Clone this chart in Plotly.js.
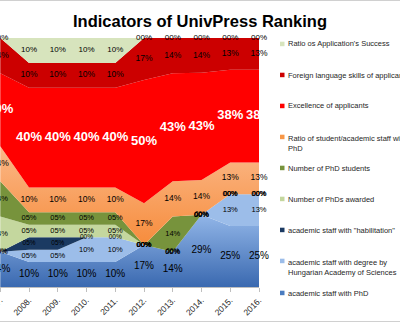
<!DOCTYPE html>
<html>
<head>
<meta charset="utf-8">
<script src="https://cdn.plot.ly/plotly-3.0.1.min.js"></script>
<style>html,body{margin:0;padding:0;background:#fff;}#chart{width:400px;height:323px;}</style>
</head>
<body>
<div id="chart"></div>
<script>
// ---- data (percent shares, as labelled) ----
const years = ['2007.','2008.','2009.','2010.','2011.','2012.','2013.','2014.','2015.','2016.'];
const staffPhD       = [14,10,10,10,10,17,14,29,25,25];
const staffAcademy   = [ 0, 5, 5,10,10, 0, 0, 0,13,13];
const staffHabil     = [ 0, 5, 5, 0, 0, 0, 0, 0, 0, 0];
const phdsAwarded    = [14, 5, 5, 5, 5, 0, 0, 0, 0, 0];
const phdStudents    = [14, 5, 5, 5, 5, 0,14, 0, 0, 0];
const ratioStaff     = [14,10,10,10,10,17,14,14,13,13];
const excellence     = [29,40,40,40,40,50,43,43,38,38];
const foreignLang    = [14,10,10,10,10,17,14,14,13,13];
const successRatio   = [ 0,10,10,10,10, 0, 0, 0, 0, 0];

const seriesNames = [
  'academic staff with PhD',
  'academic staff with degree by<br>Hungarian Academy of Sciences',
  'academic staff with "habilitation"',
  'Number of PhDs awarded',
  'Number of PhD students',
  'Ratio of student/academic staff with<br>PhD',
  'Excellence of applicants',
  'Foreign language skills of applicants',
  "Ratio os Application's Success"
];
const seriesData = [staffPhD, staffAcademy, staffHabil, phdsAwarded, phdStudents, ratioStaff, excellence, foreignLang, successRatio];

// ---- styles ----
const FONT = 'Liberation Sans, Arial, sans-serif';
const colors = ['#4a7cc0','#9cbde9','#1b3a62','#c4d79e','#77933c','#f79646','#ff0000','#cc0000','#d7e4bd'];
const gradients = [
  [[0,'#3a69b0'],[1,'#92b6e8']],
  null, null, null, null,
  [[0,'#f68c3c'],[1,'#fbb888']],
  null, null, null
];
const labelSize  = [10, 7.5, 6.5, 7.5, 7.5, 8.5, 13, 8.5, 8];
const labelColor = ['#000','#000','#000','#000','#000','#000','#fff','#000','#000'];
const labelBold  = [false,false,false,false,false,false,true,false,false];

const traces = [];
seriesData.forEach((d, i) => {
  const t = {
    x: years, y: d, name: seriesNames[i], type: 'scatter', mode: 'none',
    stackgroup: 'one', groupnorm: 'percent', line: {width: 0},
    fillcolor: colors[i], hoverinfo: 'skip', showlegend: false
  };
  if (gradients[i]) t.fillgradient = {type: 'vertical', colorscale: gradients[i]};
  traces.push(t);
});

// label positions: middle of each band (normalised)
const totals = years.map((_, j) => seriesData.reduce((s, d) => s + d[j], 0));
const cum = years.map(() => 0);
seriesData.forEach((d, i) => {
  const mids = [];
  years.forEach((_, j) => {
    const h = d[j] / totals[j] * 100;
    mids.push(Math.min(cum[j] + h / 2, 99.9));
    cum[j] += h;
  });
  traces.push({
    x: years, y: mids, type: 'scatter', mode: 'text',
    text: d.map(v => (v < 10 ? '0' : '') + v + '%'),
    textposition: 'middle center', cliponaxis: false, hoverinfo: 'skip', showlegend: false,
    textfont: {family: FONT, size: labelSize[i], color: labelColor[i], weight: labelBold[i] ? 'bold' : 'normal'}
  });
});

// ---- layout ----
const W = 400, H = 323, L = 0, R = 141, T = 38, B = 36;
const pw = W - L - R, ph = H - T - B;
const px = x => (x - L) / pw;
const py = y => (H - B - y) / ph;

const legendItems = [
  {name: "Ratio os Application's Success", c: colors[8], y: 44},
  {name: 'Foreign language skills of applicants', c: colors[7], y: 75},
  {name: 'Excellence of applicants', c: colors[6], y: 106},
  {name: 'Ratio of student/academic staff with<br>PhD', c: colors[5], y: 137, two: true},
  {name: 'Number of PhD students', c: colors[4], y: 168},
  {name: 'Number of PhDs awarded', c: colors[3], y: 199},
  {name: 'academic staff with "habilitation"', c: colors[2], y: 230},
  {name: 'academic staff with degree by<br>Hungarian Academy of Sciences', c: colors[1], y: 261, two: true},
  {name: 'academic staff with PhD', c: colors[0], y: 293}
];
const annotations = [], shapes = [];
legendItems.forEach(it => {
  annotations.push({
    xref: 'paper', yref: 'paper', x: px(286), y: py(it.y),
    xanchor: 'left', yanchor: it.two ? 'top' : 'middle', yshift: it.two ? 5 : 0,
    text: it.name, showarrow: false, align: 'left',
    font: {family: FONT, size: 7.5, color: '#262626'}
  });
  shapes.push({
    type: 'rect', xref: 'paper', yref: 'paper',
    x0: px(280), x1: px(284.5), y0: py(it.y + 2.2), y1: py(it.y - 2.3),
    fillcolor: it.c, line: {width: 0}
  });
});
// chart border lines
shapes.push({type: 'line', xref: 'paper', yref: 'paper', x0: px(-5), x1: px(405), y0: py(0.5), y1: py(0.5), line: {color: '#d0d0d0', width: 1}});
shapes.push({type: 'line', xref: 'paper', yref: 'paper', x0: px(-5), x1: px(405), y0: py(321.5), y1: py(321.5), line: {color: '#d0d0d0', width: 1}});

const layout = {
  width: W, height: H,
  margin: {l: L, r: R, t: T, b: B, pad: 0},
  paper_bgcolor: '#fff', plot_bgcolor: '#fff',
  showlegend: false,
  title: {text: '<b>Indicators of UnivPress Ranking</b>', x: 0.5, xref: 'container', xanchor: 'center',
          y: 1 - 21 / H, yref: 'container', yanchor: 'middle',
          font: {family: FONT, size: 16.5, color: '#000'}},
  xaxis: {type: 'category', range: [-0.01, 9], tickangle: -45,
          tickfont: {family: FONT, size: 8.5, color: '#262626'},
          ticks: 'outside', ticklen: 4, tickcolor: '#bfbfbf',
          showline: true, linecolor: '#bfbfbf', linewidth: 1,
          showgrid: false, zeroline: false, fixedrange: true},
  yaxis: {range: [0, 100], visible: false, fixedrange: true},
  annotations: annotations, shapes: shapes
};

Plotly.newPlot('chart', traces, layout, {displayModeBar: false, staticPlot: true});
</script>
</body>
</html>
